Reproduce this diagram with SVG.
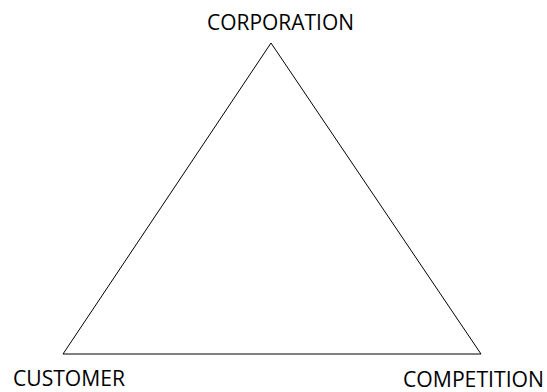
<svg xmlns="http://www.w3.org/2000/svg" width="547" height="392" viewBox="0 0 547 392">
  <style>
    .lbl { font-family: "Open Sans", "Liberation Sans", sans-serif; font-size: 22px; fill: #000; }
    .edge { fill: none; stroke: #000; stroke-width: 1; }
  </style>
  <rect width="547" height="392" fill="#fff"/>
  <g id="connectors">
    <polygon class="edge" points="271,43 63,354 481,354"/>
  </g>
  <g id="corporation">
    <text class="lbl" x="207" y="30" textLength="147" lengthAdjust="spacingAndGlyphs">CORPORATION</text>
  </g>
  <g id="customer">
    <text class="lbl" x="13" y="386" textLength="112" lengthAdjust="spacingAndGlyphs">CUSTOMER</text>
  </g>
  <g id="competition">
    <text class="lbl" x="403" y="387" textLength="141" lengthAdjust="spacingAndGlyphs">COMPETITION</text>
  </g>
</svg>
